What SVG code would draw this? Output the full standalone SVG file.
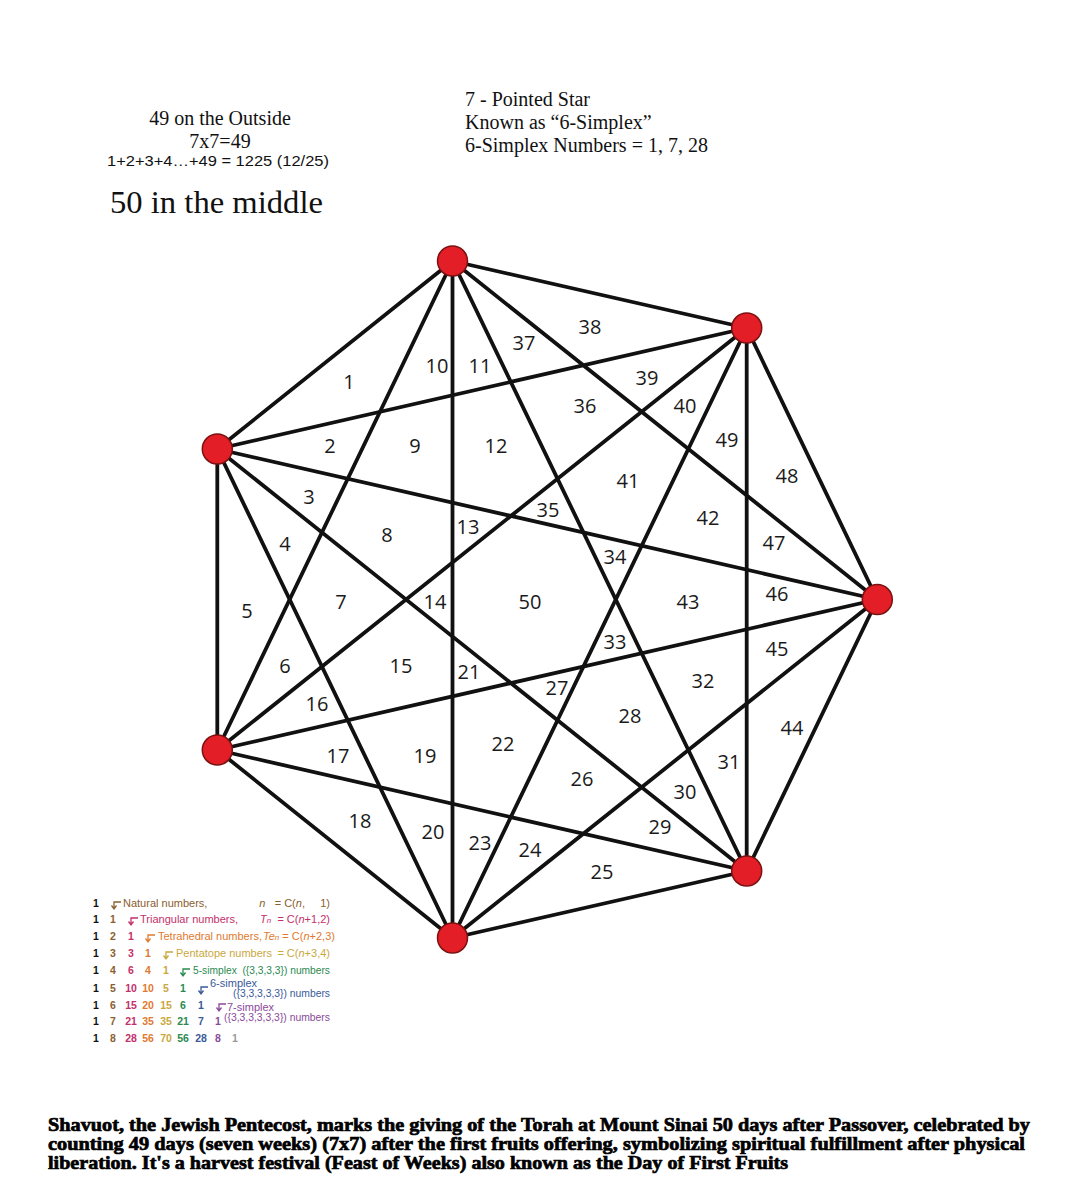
<svg xmlns="http://www.w3.org/2000/svg" width="1072" height="1200" viewBox="0 0 1072 1200">
<style>
.ed{stroke:#111;stroke-width:3.8;stroke-linecap:round;fill:none}
.nd{fill:#e41e26;stroke:#7a1212;stroke-width:1.5}
.lb{font-family:"Open Sans","Liberation Sans",sans-serif;font-size:20px;fill:#1a1a1a;text-anchor:middle}
.hd{font-family:"Liberation Serif",serif;font-size:20px;fill:#111}
.pn{font-family:"Liberation Sans",Arial,sans-serif;font-size:10.5px;font-weight:bold;text-anchor:middle}
.pl{font-family:"Liberation Sans",Arial,sans-serif;font-size:11px;white-space:pre}
.sb{font-size:8px}
.bt{font-family:"Liberation Serif",serif;font-size:19px;font-weight:bold;fill:#000;stroke:#000;stroke-width:0.7}
.k0{fill:#111}.k1{fill:#8a6030}.k2{fill:#c3306a}.k3{fill:#e07a30}.k4{fill:#c9a83e}.k5{fill:#2a8a50}.k6{fill:#3a5a9a}.k7{fill:#8a4a9a}.k8{fill:#9a9a9a}
.a1{stroke:#8a6030}.a2{stroke:#c3306a}.a3{stroke:#e07a30}.a4{stroke:#c9a83e}.a5{stroke:#2a8a50}.a6{stroke:#3a5a9a}.a7{stroke:#8a4a9a}
.ar{fill:none;stroke-width:1.3}
</style>
<rect width="1072" height="1200" fill="#fff"/>

<g id="header">
<text class="hd" x="220" y="125" text-anchor="middle">49 on the Outside</text>
<text class="hd" x="220" y="148" text-anchor="middle">7x7=49</text>
<text x="218" y="166" text-anchor="middle" font-family="Liberation Sans,Arial,sans-serif" font-size="14" fill="#111" textLength="222" lengthAdjust="spacingAndGlyphs">1+2+3+4…+49 = 1225 (12/25)</text>
<text x="110" y="213" font-family="Liberation Serif,serif" font-size="31" fill="#111" textLength="213" lengthAdjust="spacingAndGlyphs">50 in the middle</text>
<text class="hd" x="465" y="106">7 - Pointed Star</text>
<text class="hd" x="465" y="129">Known as “6-Simplex”</text>
<text class="hd" x="465" y="152">6-Simplex Numbers = 1, 7, 28</text>
</g>

<g id="connectors">
<line class="ed" x1="452.5" y1="261" x2="746.7" y2="328"/>
<line class="ed" x1="452.5" y1="261" x2="877.3" y2="599.5"/>
<line class="ed" x1="452.5" y1="261" x2="746.7" y2="871"/>
<line class="ed" x1="452.5" y1="261" x2="452.5" y2="938"/>
<line class="ed" x1="452.5" y1="261" x2="217.3" y2="750"/>
<line class="ed" x1="452.5" y1="261" x2="217.3" y2="449"/>
<line class="ed" x1="746.7" y1="328" x2="877.3" y2="599.5"/>
<line class="ed" x1="746.7" y1="328" x2="746.7" y2="871"/>
<line class="ed" x1="746.7" y1="328" x2="452.5" y2="938"/>
<line class="ed" x1="746.7" y1="328" x2="217.3" y2="750"/>
<line class="ed" x1="746.7" y1="328" x2="217.3" y2="449"/>
<line class="ed" x1="877.3" y1="599.5" x2="746.7" y2="871"/>
<line class="ed" x1="877.3" y1="599.5" x2="452.5" y2="938"/>
<line class="ed" x1="877.3" y1="599.5" x2="217.3" y2="750"/>
<line class="ed" x1="877.3" y1="599.5" x2="217.3" y2="449"/>
<line class="ed" x1="746.7" y1="871" x2="452.5" y2="938"/>
<line class="ed" x1="746.7" y1="871" x2="217.3" y2="750"/>
<line class="ed" x1="746.7" y1="871" x2="217.3" y2="449"/>
<line class="ed" x1="452.5" y1="938" x2="217.3" y2="750"/>
<line class="ed" x1="452.5" y1="938" x2="217.3" y2="449"/>
<line class="ed" x1="217.3" y1="750" x2="217.3" y2="449"/>
</g>

<g id="nodes">
<g id="node-top"><circle class="nd" cx="452.5" cy="261" r="15"/></g>
<g id="node-upper-right"><circle class="nd" cx="746.7" cy="328" r="15"/></g>
<g id="node-right"><circle class="nd" cx="877.3" cy="599.5" r="15"/></g>
<g id="node-lower-right"><circle class="nd" cx="746.7" cy="871" r="15"/></g>
<g id="node-bottom"><circle class="nd" cx="452.5" cy="938" r="15"/></g>
<g id="node-lower-left"><circle class="nd" cx="217.3" cy="750" r="15"/></g>
<g id="node-left"><circle class="nd" cx="217.3" cy="449" r="15"/></g>
</g>

<g id="region-labels" class="lb">
<text x="349" y="389">1</text>
<text x="330" y="453">2</text>
<text x="309" y="504">3</text>
<text x="285" y="551">4</text>
<text x="247" y="618">5</text>
<text x="285" y="673">6</text>
<text x="341" y="609">7</text>
<text x="387" y="542">8</text>
<text x="415" y="453">9</text>
<text x="437" y="373">10</text>
<text x="480" y="373">11</text>
<text x="496" y="453">12</text>
<text x="468" y="534">13</text>
<text x="435" y="609">14</text>
<text x="401" y="673">15</text>
<text x="317" y="711">16</text>
<text x="338" y="763">17</text>
<text x="360" y="828">18</text>
<text x="425" y="763">19</text>
<text x="433" y="839">20</text>
<text x="469" y="679">21</text>
<text x="503" y="751">22</text>
<text x="480" y="850">23</text>
<text x="530" y="857">24</text>
<text x="602" y="879">25</text>
<text x="582" y="786">26</text>
<text x="557" y="695">27</text>
<text x="630" y="723">28</text>
<text x="660" y="834">29</text>
<text x="685" y="799">30</text>
<text x="729" y="769">31</text>
<text x="703" y="688">32</text>
<text x="615" y="649">33</text>
<text x="615" y="564">34</text>
<text x="548" y="517">35</text>
<text x="585" y="413">36</text>
<text x="524" y="350">37</text>
<text x="590" y="334">38</text>
<text x="647" y="385">39</text>
<text x="685" y="413">40</text>
<text x="628" y="488">41</text>
<text x="708" y="525">42</text>
<text x="688" y="609">43</text>
<text x="792" y="735">44</text>
<text x="777" y="656">45</text>
<text x="777" y="601">46</text>
<text x="774" y="550">47</text>
<text x="787" y="483">48</text>
<text x="727" y="447">49</text>
<text x="530" y="609">50</text>
</g>

<g id="pascal-triangle">
<g class="pn">
<text class="k0" x="96" y="907">1</text>
<text class="k0" x="96" y="923">1</text><text class="k1" x="113" y="923">1</text>
<text class="k0" x="96" y="940">1</text><text class="k1" x="113" y="940">2</text><text class="k2" x="131" y="940">1</text>
<text class="k0" x="96" y="957">1</text><text class="k1" x="113" y="957">3</text><text class="k2" x="131" y="957">3</text><text class="k3" x="148" y="957">1</text>
<text class="k0" x="96" y="974">1</text><text class="k1" x="113" y="974">4</text><text class="k2" x="131" y="974">6</text><text class="k3" x="148" y="974">4</text><text class="k4" x="166" y="974">1</text>
<text class="k0" x="96" y="992">1</text><text class="k1" x="113" y="992">5</text><text class="k2" x="131" y="992">10</text><text class="k3" x="148" y="992">10</text><text class="k4" x="166" y="992">5</text><text class="k5" x="183" y="992">1</text>
<text class="k0" x="96" y="1009">1</text><text class="k1" x="113" y="1009">6</text><text class="k2" x="131" y="1009">15</text><text class="k3" x="148" y="1009">20</text><text class="k4" x="166" y="1009">15</text><text class="k5" x="183" y="1009">6</text><text class="k6" x="201" y="1009">1</text>
<text class="k0" x="96" y="1025">1</text><text class="k1" x="113" y="1025">7</text><text class="k2" x="131" y="1025">21</text><text class="k3" x="148" y="1025">35</text><text class="k4" x="166" y="1025">35</text><text class="k5" x="183" y="1025">21</text><text class="k6" x="201" y="1025">7</text><text class="k7" x="218" y="1025">1</text>
<text class="k0" x="96" y="1042">1</text><text class="k1" x="113" y="1042">8</text><text class="k2" x="131" y="1042">28</text><text class="k3" x="148" y="1042">56</text><text class="k4" x="166" y="1042">70</text><text class="k5" x="183" y="1042">56</text><text class="k6" x="201" y="1042">28</text><text class="k7" x="218" y="1042">8</text><text class="k8" x="235" y="1042">1</text>
</g>
<g class="ar">
<path class="a1" d="M121 902H114V908M111.5 905.5L114 909L116.5 905.5"/>
<path class="a2" d="M138 918H131V924M128.5 921.5L131 925L133.5 921.5"/>
<path class="a3" d="M155 935H148V941M145.5 938.5L148 942L150.5 938.5"/>
<path class="a4" d="M173 952H166V958M163.5 955.5L166 959L168.5 955.5"/>
<path class="a5" d="M190 969H183V975M180.5 972.5L183 976L185.5 972.5"/>
<path class="a6" d="M208 987H201V993M198.5 990.5L201 994L203.5 990.5"/>
<path class="a7" d="M226 1004H219V1010M216.5 1007.5L219 1011L221.5 1007.5"/>
</g>
<text class="pl k1" x="123" y="907">Natural numbers,</text>
<text class="pl k1" x="330" y="907" text-anchor="end" xml:space="preserve"><tspan font-style="italic">n</tspan>   = C(<tspan font-style="italic">n</tspan>,     1)</text>
<text class="pl k2" x="140" y="923">Triangular numbers,</text>
<text class="pl k2" x="330" y="923" text-anchor="end" xml:space="preserve"><tspan font-style="italic">T</tspan><tspan class="sb" font-style="italic">n</tspan>  = C(<tspan font-style="italic">n</tspan>+1,2)</text>
<text class="pl k3" x="158" y="940" font-size="10.5">Tetrahedral numbers,</text>
<text class="pl k3" x="263" y="940" font-size="10" xml:space="preserve"><tspan font-style="italic">Te</tspan><tspan class="sb" font-style="italic">n</tspan> = C(<tspan font-style="italic">n</tspan>+2,3)</text>
<text class="pl k4" x="176" y="957">Pentatope numbers</text>
<text class="pl k4" x="330" y="957" text-anchor="end">= C(<tspan font-style="italic">n</tspan>+3,4)</text>
<text class="pl k5" x="193" y="974" textLength="137" lengthAdjust="spacingAndGlyphs">5-simplex  ({3,3,3,3}) numbers</text>
<text class="pl k6" x="210" y="987">6-simplex</text>
<text class="pl k6" x="233" y="997" textLength="97" lengthAdjust="spacingAndGlyphs">({3,3,3,3,3}) numbers</text>
<text class="pl k7" x="227" y="1011">7-simplex</text>
<text class="pl k7" x="224" y="1021" textLength="106" lengthAdjust="spacingAndGlyphs">({3,3,3,3,3,3}) numbers</text>
</g>

<g id="caption">
<text class="bt" x="48" y="1131" textLength="982" lengthAdjust="spacingAndGlyphs">Shavuot, the Jewish Pentecost, marks the giving of the Torah at Mount Sinai 50 days after Passover, celebrated by</text>
<text class="bt" x="48" y="1150" textLength="977" lengthAdjust="spacingAndGlyphs">counting 49 days (seven weeks) (7x7) after the first fruits offering, symbolizing spiritual fulfillment after physical</text>
<text class="bt" x="48" y="1169" textLength="740" lengthAdjust="spacingAndGlyphs">liberation. It's a harvest festival (Feast of Weeks) also known as the Day of First Fruits</text>
</g>
</svg>
